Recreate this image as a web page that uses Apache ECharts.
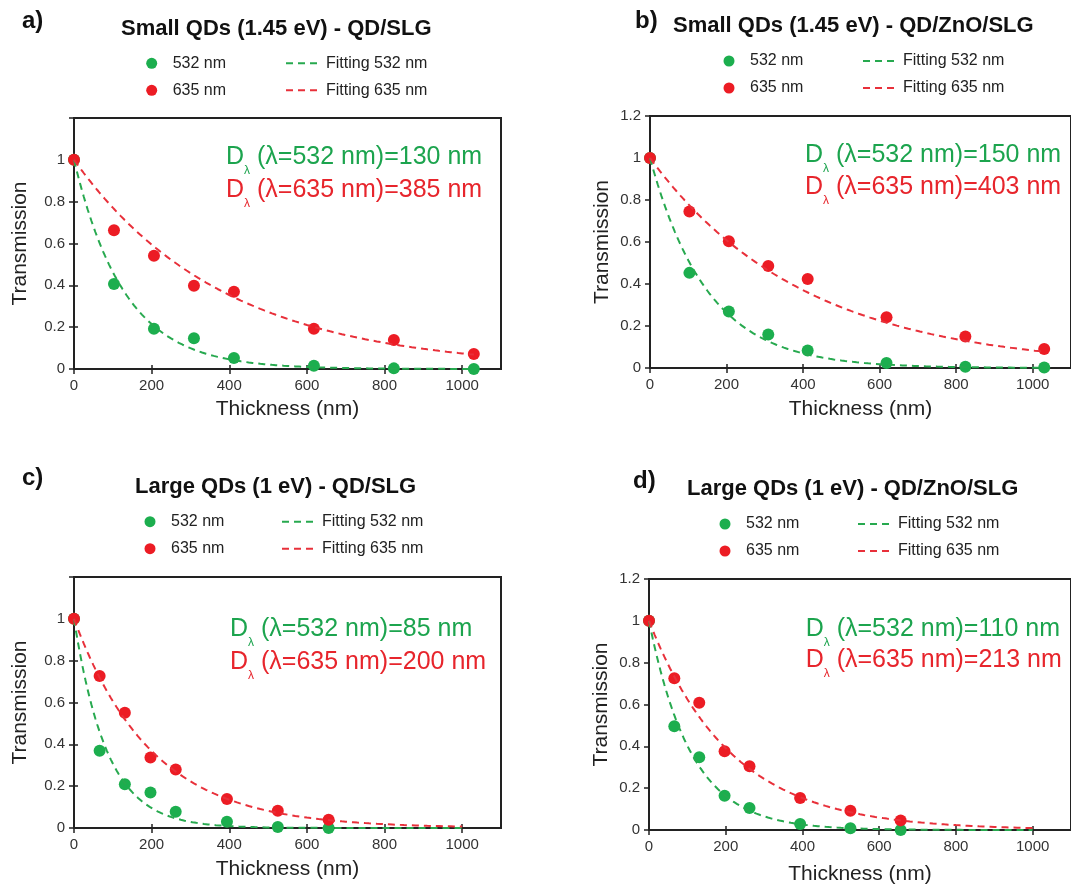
<!DOCTYPE html>
<html>
<head>
<meta charset="utf-8">
<script src="https://cdn.jsdelivr.net/npm/echarts@6/dist/echarts.min.js"></script>
<style>
  html, body { margin: 0; padding: 0; background: #ffffff; }
  #chart { width: 1071px; height: 890px; }
</style>
</head>
<body>
<div id="chart"></div>
<script>
// ---- data ----
const panelLetters = ['a)', 'b)', 'c)', 'd)'];
const panelTitles = [
  'Small QDs (1.45 eV) - QD/SLG',
  'Small QDs (1.45 eV) - QD/ZnO/SLG',
  'Large QDs (1 eV) - QD/SLG',
  'Large QDs (1 eV) - QD/ZnO/SLG'
];
const seriesNames = ['532 nm', '635 nm'];
const fitNames = ['Fitting 532 nm', 'Fitting 635 nm'];

// film thickness (nm) for each sample set
const thicknessSmall = [0, 103, 206, 309, 412, 618, 824, 1030];
const thicknessLarge = [0, 66, 131, 197, 262, 394, 525, 656];

// measured transmission
const transA532 = [1, 0.406, 0.192, 0.147, 0.053, 0.016, 0.003, 0.0];
const transA635 = [1, 0.663, 0.541, 0.398, 0.369, 0.192, 0.139, 0.072];
const transB532 = [1, 0.453, 0.269, 0.159, 0.083, 0.024, 0.006, 0.002];
const transB635 = [1, 0.745, 0.604, 0.486, 0.424, 0.242, 0.150, 0.091];
const transC532 = [1, 0.369, 0.209, 0.170, 0.078, 0.030, 0.005, 0.0];
const transC635 = [1, 0.727, 0.551, 0.337, 0.280, 0.139, 0.083, 0.040];
const transD532 = [1, 0.496, 0.348, 0.164, 0.105, 0.029, 0.008, 0.0];
const transD635 = [1, 0.726, 0.608, 0.377, 0.305, 0.153, 0.092, 0.046];

// fitted attenuation lengths D_lambda (nm): [532 nm, 635 nm]
const decayA = [130, 385];
const decayB = [150, 403];
const decayC = [85, 200];
const decayD = [110, 213];

// end of the fitted curve (nm)
const fitEnd = [1030, 1030, 1000, 1000];

// axis ranges and ticks
const xTickValues = [0, 200, 400, 600, 800, 1000];
const xRange = [0, 1100];
const yRange = [0, 1.2];
const yStep = 0.2;
const xStep = 200;

// ---- styling / layout ----
const FONT = "'Liberation Sans', Arial, Helvetica, sans-serif";
const GREEN = '#1cae4e';
const RED = '#ec1c24';
const GREEN_LINE = '#27a94f';
const RED_LINE = '#e8303a';
const GREEN_TEXT = '#1ca44e';
const RED_TEXT = '#e7252c';
const AXIS = '#222222';

const panels = [
  { x: thicknessSmall, t: [transA532, transA635], D: decayA, grid: { left: 74, top: 118, width: 427, height: 251 },
    letter: [22, 7.5], title: [121, 15.5], legend: [146.2, 285, 54.3],
    note: [226, 144.5, 177.8], yName: 43, xName: 30, showTop: false },
  { x: thicknessSmall, t: [transB532, transB635], D: decayB, grid: { left: 650, top: 116, width: 424, height: 252 },
    letter: [635, 7.5], title: [673, 12.5], legend: [723.5, 862, 52],
    note: [805, 142.8, 174.5], yName: 37, xName: 31, showTop: true },
  { x: thicknessLarge, t: [transC532, transC635], D: decayC, grid: { left: 74, top: 577, width: 427, height: 251 },
    letter: [22, 464.5], title: [135, 474.2], legend: [144.5, 281, 512.7],
    note: [230, 616.2, 649.5], yName: 43, xName: 31, showTop: false },
  { x: thicknessLarge, t: [transD532, transD635], D: decayD, grid: { left: 649, top: 579, width: 425, height: 251 },
    letter: [633, 467], title: [687, 475.5], legend: [719.5, 857, 515],
    note: [805.7, 616.2, 647.8], yName: 37, xName: 34, showTop: true }
];

// exponential attenuation T = exp(-t / D) using the fitted length
function fitCurve(D, end) {
  const pts = [];
  for (let t = 0; t <= end; t += 5) pts.push([t, Math.exp(-t / D)]);
  return pts;
}

const grids = [], xAxes = [], yAxes = [], series = [], titles = [], legends = [];

panels.forEach((p, i) => {
  grids.push(Object.assign({ show: true, borderColor: AXIS, borderWidth: 2, containLabel: false }, p.grid));

  xAxes.push({
    type: 'value', gridIndex: i, min: xRange[0], max: xRange[1], interval: xStep,
    axisLine: { show: true, onZero: false, lineStyle: { color: AXIS, width: 2 } },
    axisTick: { show: true, length: 5, lineStyle: { color: AXIS, width: 1.5 } },
    splitLine: { show: false },
    axisLabel: {
      fontFamily: FONT, fontSize: 15, color: '#333', margin: 9, showMaxLabel: false,
      formatter: v => (xTickValues.indexOf(v) >= 0 ? String(v) : '')
    },
    name: 'Thickness (nm)', nameLocation: 'middle', nameGap: p.xName,
    nameTextStyle: { fontFamily: FONT, fontSize: 21, color: AXIS }
  });

  yAxes.push({
    type: 'value', gridIndex: i, min: yRange[0], max: yRange[1], interval: yStep,
    axisLine: { show: true, onZero: false, lineStyle: { color: AXIS, width: 2 } },
    axisTick: { show: true, length: 5, lineStyle: { color: AXIS, width: 1.5 } },
    splitLine: { show: false },
    axisLabel: {
      fontFamily: FONT, fontSize: 15, color: '#333', margin: 9,
      formatter: v => (Math.abs(v - yRange[1]) < 1e-9 && !p.showTop) ? '' : String(+v.toFixed(1))
    },
    name: 'Transmission', nameLocation: 'middle', nameRotate: 90, nameGap: p.yName,
    nameTextStyle: { fontFamily: FONT, fontSize: 21, color: AXIS }
  });

  const colors = [GREEN, RED];
  const lineColors = [GREEN_LINE, RED_LINE];
  [0, 1].forEach(k => {
    series.push({
      name: seriesNames[k], type: 'scatter', xAxisIndex: i, yAxisIndex: i,
      symbol: 'circle', symbolSize: 12, z: 2,
      itemStyle: { color: colors[k], opacity: 1 },
      data: p.x.map((x, j) => [x, p.t[k][j]])
    });
  });
  [0, 1].forEach(k => {
    series.push({
      name: fitNames[k], type: 'line', xAxisIndex: i, yAxisIndex: i,
      symbol: 'none', showSymbol: false, z: 3, silent: true,
      itemStyle: { color: lineColors[k] },
      lineStyle: { color: lineColors[k], width: 2, type: [7, 5] },
      data: fitCurve(p.D[k], fitEnd[i])
    });
  });

  // panel letter and heading
  titles.push({
    text: panelLetters[i], left: p.letter[0], top: p.letter[1], padding: 0,
    textStyle: { fontFamily: FONT, fontSize: 24, fontWeight: 'bold', color: '#111', lineHeight: 28 }
  });
  titles.push({
    text: panelTitles[i], left: p.title[0], top: p.title[1], padding: 0,
    textStyle: { fontFamily: FONT, fontSize: 22, fontWeight: 'bold', color: '#111', lineHeight: 26 }
  });

  // attenuation-length notes
  const waves = ['532', '635'];
  const noteColors = [GREEN_TEXT, RED_TEXT];
  [0, 1].forEach(k => {
    titles.push({
      text: '{m|D}{s|λ}{m| (λ=' + waves[k] + ' nm)=' + p.D[k] + ' nm}',
      left: p.note[0], top: p.note[1 + k], padding: 0,
      textStyle: {
        fontWeight: 'normal',
        rich: {
          m: { fontFamily: FONT, fontSize: 25, fontWeight: 'normal', lineHeight: 28, verticalAlign: 'top', color: noteColors[k] },
          s: { fontFamily: FONT, fontSize: 12, fontWeight: 'normal', lineHeight: 32, verticalAlign: 'bottom', color: noteColors[k] }
        }
      }
    });
  });

  // legends: marker column and fit column
  const legendBase = {
    orient: 'vertical', padding: 0, itemGap: 9, itemHeight: 11, selectedMode: false,
    textStyle: { fontFamily: FONT, fontSize: 16, color: '#222', lineHeight: 18 }
  };
  legends.push(Object.assign({}, legendBase, {
    left: p.legend[0], top: p.legend[2], itemWidth: 32, data: seriesNames
  }));
  legends.push(Object.assign({}, legendBase, {
    left: p.legend[1], top: p.legend[2], itemWidth: 35, data: fitNames,
    itemStyle: { opacity: 0 }
  }));
});

// inner halves of the cross-style tick marks: tick-only axes laid over the main axis lines
panels.forEach((p, i) => {
  xAxes.push({
    type: 'value', gridIndex: i, position: 'top', offset: -p.grid.height,
    min: xRange[0], max: xRange[1], interval: xStep, silent: true,
    axisLine: { show: false, onZero: false }, axisLabel: { show: false }, splitLine: { show: false },
    axisTick: { show: true, inside: false, length: 4, lineStyle: { color: AXIS, width: 1.5 } }
  });
  yAxes.push({
    type: 'value', gridIndex: i, position: 'right', offset: -p.grid.width,
    min: yRange[0], max: yRange[1], interval: yStep, silent: true,
    axisLine: { show: false, onZero: false }, axisLabel: { show: false }, splitLine: { show: false },
    axisTick: { show: true, inside: false, length: 4, lineStyle: { color: AXIS, width: 1.5 } }
  });
});

const chart = echarts.init(document.getElementById('chart'), null, { renderer: 'canvas' });
chart.setOption({
  animation: false,
  backgroundColor: '#ffffff',
  title: titles,
  legend: legends,
  grid: grids,
  xAxis: xAxes,
  yAxis: yAxes,
  series: series
});
</script>
</body>
</html>
